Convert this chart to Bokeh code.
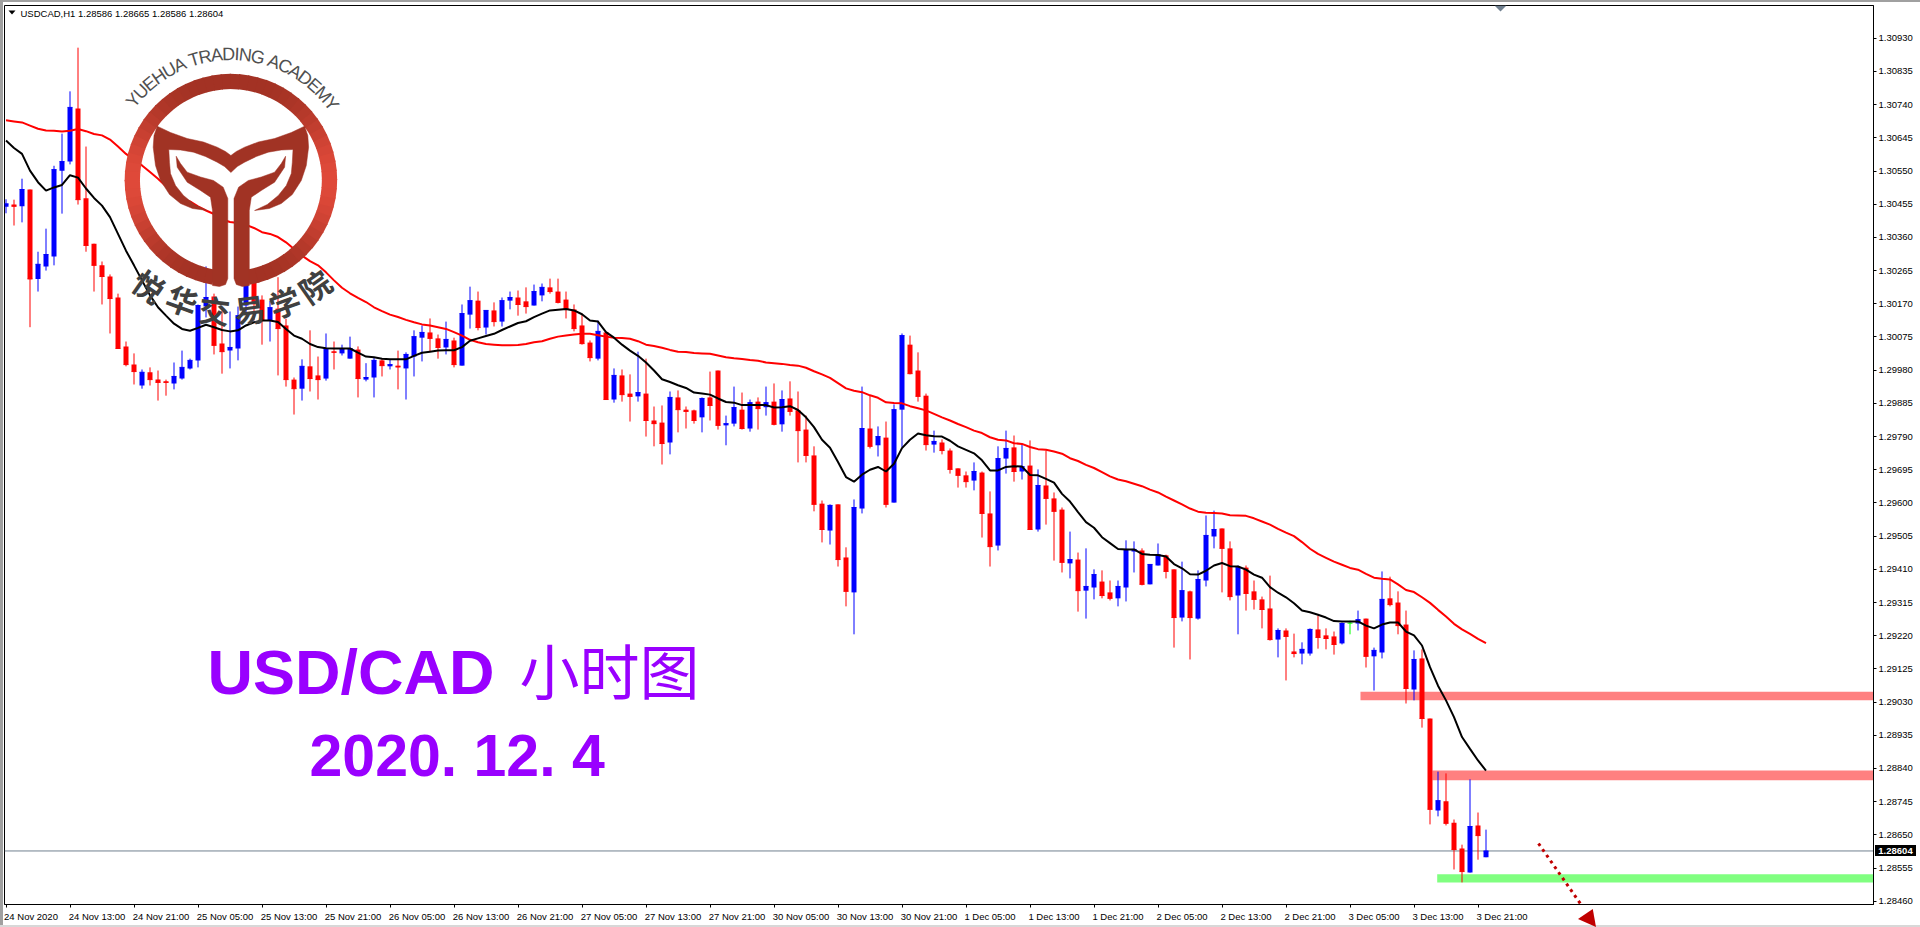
import math
import numpy as np
from bokeh.embed import file_html
from bokeh.resources import INLINE
from bokeh.plotting import figure
from bokeh.core.properties import value
from bokeh.models import (Range1d, FixedTicker, PrintfTickFormatter, Span, ColumnDataSource, Arrow, Div)

# ---- data: prices x 100000 ----
open_pts = [130448,130454,130449,130497,130241,130277,130305,130551,130577,130729,
130472,130342,130280,130248,130188,130048,129996,129936,129974,129953,
129948,129942,129956,129985,130008,130162,130191,130056,130036,130042,
130165,130246,130182,130122,130156,130108,129953,129927,129991,129965,
129956,130034,130028,130013,130039,129953,129959,130008,129991,129993,
129985,130019,130073,130088,130071,130045,130065,129993,130139,130179,
130102,130151,130119,130179,130188,130177,130165,130194,130217,130205,
130182,130154,130108,130059,130013,130088,129896,129965,129913,129905,
129913,129836,129830,129773,129902,129867,129865,129845,129902,129979,
129822,129827,129867,129813,129890,129874,129890,129825,129899,129865,
129810,129736,129598,129521,129596,129444,129344,129584,129813,129765,
129787,129601,129867,130053,129979,129907,129767,129773,129750,129699,
129679,129664,129687,129570,129478,129727,129759,129690,129707,129524,
129650,129613,129581,129427,129438,129349,129358,129375,129344,129327,
129358,129461,129464,129367,129421,129450,129410,129272,129347,129269,
129378,129504,129527,129470,129335,129415,129347,129324,129298,129209,
129235,129175,129169,129169,129238,129221,129218,129198,129256,129255,
129269,129161,129172,129327,129315,129252,129066,129155,128983,128720,
128746,128685,128611,128542,128677,128586]
high_pts = [130469,130468,130528,130497,130319,130385,130565,130657,130778,130903,
130620,130342,130291,130254,130199,130062,130028,129982,129988,129979,
129953,130002,130036,130013,130168,130277,130199,130151,130148,130162,
130265,130265,130194,130179,130246,130127,129959,130011,130094,130019,
130085,130062,130053,130076,130048,130000,130017,130012,130012,130036,
130031,130094,130108,130128,130082,130119,130073,130168,130219,130205,
130151,130174,130188,130205,130208,130217,130225,130228,130242,130242,
130205,130168,130142,130065,130122,130088,129985,129982,129968,130033,
130013,129876,129879,129919,129922,129876,129867,129902,129976,129979,
129850,129933,129916,129896,129902,129933,129942,129922,129948,129919,
129850,129762,129607,129596,129596,129473,129610,129933,129907,129819,
129833,129882,130085,130079,130031,129913,129807,129782,129756,129699,
129690,129716,129690,129633,129762,129807,129793,129767,129779,129696,
129750,129630,129587,129518,129458,129470,129410,129407,129378,129378,
129493,129490,129470,129424,129484,129452,129410,129432,129349,129407,
129564,129578,129527,129490,129421,129421,129378,129332,129392,129241,
129241,129226,129201,129241,129278,129241,129232,129258,129263,129292,
129269,129186,129404,129389,129347,129292,129178,129181,128983,128831,
128826,128694,128622,128809,128714,128665]
low_pts = [130429,130394,130403,130103,130205,130265,130280,130428,130569,130454,
130319,130205,130168,130085,130042,129991,129939,129927,129936,129893,
129907,129925,129953,129982,129988,130131,130025,129970,129985,130008,
130146,130122,130053,130062,129965,129933,129853,129893,129919,129896,
129950,129982,130022,130013,129902,129948,129902,129962,129982,129925,
129896,129962,130005,130033,130013,130025,129988,129993,130099,130094,
130082,130105,130105,130154,130136,130142,130165,130177,130199,130171,
130128,130091,130053,130005,130008,129896,129887,129890,129833,129890,
129790,129762,129710,129739,129802,129813,129827,129802,129836,129810,
129765,129819,129810,129804,129810,129850,129822,129804,129850,129716,
129716,129576,129487,129481,129418,129304,129224,129570,129756,129733,
129587,129601,129759,129968,129890,129750,129744,129739,129684,129644,
129644,129636,129501,129418,129464,129684,129661,129667,129524,129518,
129538,129435,129401,129384,129289,129269,129324,129327,129321,129304,
129318,129401,129364,129367,129421,129384,129186,129261,129152,129266,
129361,129470,129344,129321,129224,129292,129295,129241,129206,129158,
129092,129158,129138,129163,129183,129181,129166,129195,129224,129235,
129129,129063,129155,129304,129224,129026,129035,128957,128680,128703,
128677,128551,128514,128542,128579,128586]
close_pts = [130456,130449,130497,130241,130283,130311,130554,130577,130732,130468,
130337,130280,130248,130185,130042,129996,129976,129974,129953,129945,
129945,129962,129988,130008,130165,130188,130051,130033,130045,130136,
130246,130170,130122,130159,130099,129953,129927,129991,129956,129953,
130042,130031,130042,130042,129956,129959,130008,129993,129996,129989,
130025,130076,130088,130071,130045,130068,129996,130142,130179,130102,
130151,130119,130179,130188,130168,130162,130205,130217,130205,130174,
130156,130099,130056,130016,130091,129896,129965,129910,129905,129916,
129836,129827,129770,129902,129867,129862,129836,129899,129879,129822,
129827,129873,129813,129887,129870,129887,129825,129896,129862,129807,
129736,129596,129524,129593,129438,129347,129587,129813,129762,129790,
129596,129867,130079,129970,129905,129767,129776,129750,129696,129679,
129661,129690,129570,129475,129727,129756,129690,129704,129524,129650,
129613,129576,129430,129438,129349,129361,129395,129335,129327,129361,
129467,129467,129367,129424,129452,129404,129272,129349,129272,129381,
129507,129524,129470,129332,129415,129341,129324,129295,129209,129235,
129218,129169,129181,129238,129215,129212,129195,129255,129256,129266,
129161,129178,129324,129309,129249,129069,129152,128983,128723,128748,
128683,128608,128545,128674,128648,128604]
ma_fast_pts = [130637,130616,130599,130551,130518,130494,130503,130510,130538,130531,
130500,130473,130451,130418,130370,130322,130280,130237,130194,130160,
130136,130113,130098,130093,130101,130110,130103,130095,130091,130094,
130108,130117,130122,130122,130118,130098,130079,130070,130055,130046,
130043,130042,130042,130042,130030,130019,130017,130013,130011,130011,
130011,130021,130030,130033,130036,130037,130037,130046,130064,130071,
130078,130084,130095,130105,130115,130120,130132,130142,130151,130153,
130155,130151,130140,130122,130119,130089,130073,130053,130036,130021,
130002,129979,129954,129946,129937,129929,129916,129913,129910,129899,
129889,129887,129880,129880,129880,129880,129873,129874,129877,129866,
129845,129817,129781,129758,129717,129674,129661,129681,129695,129703,
129690,129712,129757,129781,129799,129794,129791,129790,129778,129762,
129752,129742,129722,129693,129693,129703,129705,129704,129680,129679,
129669,129658,129626,129604,129574,129545,129529,129502,129485,129468,
129467,129467,129454,129452,129451,129447,129425,129413,129396,129395,
129406,129421,129428,129419,129418,129409,129395,129386,129359,129343,
129330,129313,129292,129287,129280,129272,129262,129261,129261,129261,
129249,129241,129252,129258,129258,129232,129221,129192,129130,129077,
129035,128987,128930,128896,128863,128834]
ma_slow_pts = [130695,130692,130689,130680,130671,130666,130665,130663,130665,130670,
130664,130656,130652,130640,130620,130599,130582,130566,130547,130528,
130506,130485,130470,130463,130449,130437,130427,130411,130404,130401,
130396,130387,130375,130370,130361,130346,130327,130308,130292,130280,
130260,130237,130216,130200,130187,130175,130160,130149,130139,130132,
130124,130117,130111,130108,130103,130098,130089,130079,130067,130060,
130055,130053,130051,130051,130052,130055,130060,130063,130070,130076,
130079,130082,130084,130084,130080,130076,130073,130072,130070,130063,
130053,130049,130044,130038,130033,130032,130029,130028,130027,130022,
130017,130014,130012,130009,130007,130002,130000,129998,129995,129993,
129987,129977,129968,129958,129943,129928,129921,129917,129908,129901,
129888,129886,129885,129877,129871,129865,129855,129845,129836,129826,
129817,129807,129800,129788,129781,129779,129771,129769,129760,129754,
129752,129747,129741,129728,129720,129709,129700,129688,129676,129667,
129662,129655,129648,129638,129630,129618,129607,129596,129584,129575,
129572,129571,129570,129565,129564,129563,129556,129547,129538,129526,
129515,129505,129488,129469,129454,129443,129432,129423,129414,129409,
129397,129386,129383,129381,129367,129351,129345,129330,129314,129294,
129275,129254,129238,129225,129211,129199]

y_tick_values = [1.30930,1.30835,1.30740,1.30645,1.30550,1.30455,1.30360,1.30265,1.30170,
                 1.30075,1.29980,1.29885,1.29790,1.29695,1.29600,1.29505,1.29410,1.29315,
                 1.29220,1.29125,1.29030,1.28935,1.28840,1.28745,1.28650,1.28555,1.28460]
x_tick_bars = [0,8,16,24,32,40,48,56,64,72,80,88,96,104,112,120,128,136,144,152,160,168,176,184]
x_tick_labels = ["24 Nov 2020","24 Nov 13:00","24 Nov 21:00","25 Nov 05:00","25 Nov 13:00","25 Nov 21:00",
                 "26 Nov 05:00","26 Nov 13:00","26 Nov 21:00","27 Nov 05:00","27 Nov 13:00","27 Nov 21:00",
                 "30 Nov 05:00","30 Nov 13:00","30 Nov 21:00","1 Dec 05:00","1 Dec 13:00","1 Dec 21:00",
                 "2 Dec 05:00","2 Dec 13:00","2 Dec 21:00","3 Dec 05:00","3 Dec 13:00","3 Dec 21:00"]
bid_price = 1.28604
bid_label = "1.28604"
header_text = "USDCAD,H1  1.28586 1.28665 1.28586 1.28604"
zone_pts = [(129060,129035,"#FF8080"),(128834,128806,"#FF8080"),(128537,128514,"#80FF80")]
zone_from_bar = [169.31,178.3,178.9]
title_latin = "USD/CAD"
title_cjk = "小时图"
date_text = "2020. 12. 4"
logo_latin = "YUEHUA TRADING ACADEMY"
logo_cjk = "悦华交易学院"

# ---- helpers ----
SANS = "Liberation Sans"
SMALL = "9.5px"
def bx(x):  # page pixel -> bar index (for decoration only)
    return (np.asarray(x, dtype=float) - 5.5) / 8.0
def py(y):  # page pixel -> price (for decoration only)
    return (131038.0 - 0.954 * 3.0 * np.asarray(y, dtype=float)) / 1e5

bars = np.arange(len(close_pts))
o, h, l, c = [np.array(a) / 1e5 for a in (open_pts, high_pts, low_pts, close_pts)]
colors = ["#0000FF" if cc > oo else ("#FF0000" if cc < oo else "#00FF00") for oo, cc in zip(o, c)]
src = ColumnDataSource(dict(x=bars, o=o, h=h, l=l, c=c, color=colors, fast=np.array(ma_fast_pts)/1e5, slow=np.array(ma_slow_pts)/1e5))

p = figure(width=1920, height=927, output_backend="svg", toolbar_location=None, tools="",
           x_range=Range1d(float(bx(4)), float(bx(1873))), y_range=Range1d(float(py(904)), float(py(5))),
           y_axis_location="right", min_border_left=4, min_border_right=47, min_border_top=5, min_border_bottom=23,
           background_fill_color="white", border_fill_color="white",
           outline_line_color="black", outline_line_width=1)
p.styles = {"position": "absolute", "left": "0px", "top": "0px"}
p.grid.visible = False

ya = p.yaxis[0]
ya.ticker = FixedTicker(ticks=y_tick_values)
ya.formatter = PrintfTickFormatter(format="%.5f")
ya.major_tick_in = 0; ya.major_tick_out = 3; ya.minor_tick_out = 0; ya.minor_tick_in = 0
ya.major_label_standoff = 2
ya.major_label_text_font = SANS; ya.major_label_text_font_size = SMALL; ya.major_label_text_color = "black"
ya.axis_line_color = "black"; ya.major_tick_line_color = "black"

# x axis: labels start at their tick, so the label anchors are shifted and the tick marks are the minor ticks
CW = {" ":.278, ":":.278, "N":.722, "o":.556, "v":.5, "D":.722, "e":.556, "c":.5}
label_anchor = []
for tick, lab in zip(x_tick_bars, x_tick_labels):
    w = sum(CW.get(ch, .556) for ch in lab) * 9.5
    label_anchor.append(tick + round(w/2 - 1.5) / 8.0)
xa = p.xaxis[0]
xa.ticker = FixedTicker(ticks=label_anchor, minor_ticks=x_tick_bars)
xa.major_label_overrides = dict(zip(label_anchor, x_tick_labels))
xa.major_tick_in = 0; xa.major_tick_out = 0; xa.minor_tick_in = 0; xa.minor_tick_out = 3
xa.major_label_standoff = 3
xa.major_label_text_font = SANS; xa.major_label_text_font_size = SMALL; xa.major_label_text_color = "black"
xa.axis_line_color = "black"; xa.minor_tick_line_color = "black"; xa.major_tick_line_color = None

# zones and bid line
for (hi, lo, col), start in zip(zone_pts, zone_from_bar):
    p.quad(left=[start], right=[float(bx(1873))], top=[hi/1e5], bottom=[lo/1e5], fill_color=col, line_color=None)
p.add_layout(Span(location=bid_price, dimension="width", line_color="#708090", line_width=1, level="underlay"))

# candles
p.segment("x", "h", "x", "l", source=src, line_color="color", line_width=1)
body = ColumnDataSource(dict(x=bars, t=np.maximum(o, c), b=np.minimum(o, c), color=colors))
p.vbar(x="x", width=5/8, top="t", bottom="b", source=body, fill_color="color", line_color=None)
doji = ColumnDataSource(dict(x0=bars-0.3125, x1=bars+0.3125, y=c, color=colors))
p.segment("x0", "y", "x1", "y", source=doji, line_color="color", line_width=1)

# moving averages
p.line("x", "slow", source=src, line_color="#FF0000", line_width=2)
p.line("x", "fast", source=src, line_color="#000000", line_width=2)

# ---- logo (decoration, page-pixel geometry) ----
CX, CY = 230.4, 179.6
RO, RI = 106.3, 91.0
def lerp_col(t):
    a = (0xA3, 0x32, 0x24); b = (0xE0, 0x4A, 0x3A)
    return "#%02X%02X%02X" % tuple(int(a[k] + (b[k]-a[k])*t) for k in range(3))
xs, ys, cols = [], [], []
th = -80.0
while th < 260.0:
    t0 = math.radians(th); t1 = math.radians(min(th+5.6, 260.0))
    px_ = [CX+RO*math.cos(t0), CX+RO*math.cos(t1), CX+RI*math.cos(t1), CX+RI*math.cos(t0)]
    py_ = [CY-RO*math.sin(t0), CY-RO*math.sin(t1), CY-RI*math.sin(t1), CY-RI*math.sin(t0)]
    xs.append(bx(px_).tolist()); ys.append(py(py_).tolist())
    cols.append(lerp_col(abs(math.cos(math.radians(th+2.5)))**4))
    th += 5.0
p.patches(xs, ys, fill_color=cols, line_color=None)

wing_left_outer = [(156.7,125.7),(170,132),(186.7,138),(203,141.5),(216.7,146.7),(225,151),(230.4,155)]
wing_left_lower = [(230.4,172),(224,166),(216.7,161.7),(205,156),(193,151.7),(180,149.5),(168.3,149),
                   (169,162),(170,173),(175,185),(183,195),(194,204),(206.7,210),
                   (192,208),(180,203),(169,194),(160,180),(155,165),(152.7,146.7),(153.5,135)]
leaf_stem_left = [(175.7,155.7),(180,163),(186.7,171.7),(200,176.5),(213,180),(222.7,186.7),(227.3,198),
                  (227.3,278),(225,284),(219,286),(212,285),(212,210),(210,196.7),(200,190),(186.7,181.7),(176.7,166.7)]
def mirror(pts): return [(2*CX-a, b) for a, b in pts]
rl = mirror(wing_left_lower)
wing_poly = (wing_left_outer + mirror(wing_left_outer)[::-1][1:] + rl[::-1] + wing_left_lower[1:])
for poly in (wing_poly, leaf_stem_left, mirror(leaf_stem_left)):
    p.patch(bx([a for a, _ in poly]).tolist(), py([b for _, b in poly]).tolist(), fill_color="#A13324", line_color="#A13324", line_width=0.5)

# curved latin text
W = dict(zip("YUEHA TRDINGCM", [0.667,0.722,0.667,0.722,0.667,0.278,0.611,0.722,0.722,0.278,0.722,0.778,0.722,0.833]))
widths = [W[ch] for ch in logo_latin]
tot = sum(widths); acc = 0.0; tx, ty, ta = [], [], []
for ch, w in zip(logo_latin, widths):
    f = (acc + w/2) / tot; acc += w
    deg = 143.3 + (34.6-143.3)*f
    r = math.radians(deg)
    tx.append(float(bx(CX+126*math.cos(r)))); ty.append(float(py(CY-126*math.sin(r)))); ta.append(math.radians(deg-90))
p.text(tx, ty, text=list(logo_latin), angle=ta, text_font=value(SANS), text_font_size="18px", text_color="#505050",
       text_align="center", text_baseline="middle")
# curved chinese text
cn_px = [(149,285),(182,299),(214,309),(249,308),(284,301),(314,285)]
cn_deg = [-35,-20,-7,7,20,35]
p.text(bx([a for a, _ in cn_px]).tolist(), py([b for _, b in cn_px]).tolist(), text=list(logo_cjk),
       angle=[math.radians(d) for d in cn_deg], text_font=value("Noto Sans CJK SC"), text_font_size="31px",
       text_font_style="bold", text_color="#404040", text_align="center", text_baseline="middle")

# ---- big captions ----
def cap(x, y, txt, font, size, style):
    p.text([float(bx(x))], [float(py(y))], text=[txt], text_font=value(font), text_font_size=size, text_font_style=style,
           text_color="#9900FF", text_align="left", text_baseline="alphabetic")
cap(207, 671, title_latin, SANS, "63px", "bold")
cap(519, 668, title_cjk, "Noto Sans CJK SC", "60px", "normal")
cap(309, 755, date_text, SANS, "59px", "bold")

# header
p.text([float(bx(20))], [float(py(12.5))], text=[header_text], text_font=value(SANS), text_font_size=SMALL,
       text_color="black", text_align="left", text_baseline="middle")
tri = [(8,10),(15,10),(11.5,14)]
p.patch(bx([a for a,_ in tri]).tolist(), py([b for _,b in tri]).tolist(), fill_color="black", line_color=None)
# small period marker at top
tri2 = [(1494,5),(1506,5),(1500,11)]
p.patch(bx([a for a,_ in tri2]).tolist(), py([b for _,b in tri2]).tolist(), fill_color="#708090", line_color=None)

# forecast arrow shaft
p.add_layout(Arrow(x_start=float(bx(1538)), y_start=float(py(843)), x_end=float(bx(1586)), y_end=float(py(912)),
                   line_color="#C00000", line_width=3, line_dash="3 4", end=None))

# page furniture outside the plot: window edges, the arrow head and the bid tag
def block(left, top, width, height, color, extra=None, text=""):
    st = {"position": "absolute", "left": f"{left}px", "top": f"{top}px", "width": f"{width}px", "height": f"{height}px",
          "background": color, "margin": "0", "padding": "0"}
    if extra:
        st.update(extra)
    return Div(text=text, width=width, height=height, styles=st)
furniture = [block(0, 0, 3, 927, "#A0A0A0"), block(0, 0, 1920, 2, "#A0A0A0"), block(0, 925, 1920, 2, "#D8D8D8"),
             block(1578, 909, 18, 18, "#C00000", {"clip-path": "polygon(0% 55%, 82% 0%, 100% 100%)"}),
             block(1875, 845, 41, 11, "#000000",
                   {"color": "white", "font-family": SANS, "font-size": "9.5px", "font-weight": "bold",
                    "line-height": "11px", "text-align": "center", "overflow": "hidden"}, text=bid_label)]

open("out.html", "w").write(file_html([p] + furniture, INLINE))
